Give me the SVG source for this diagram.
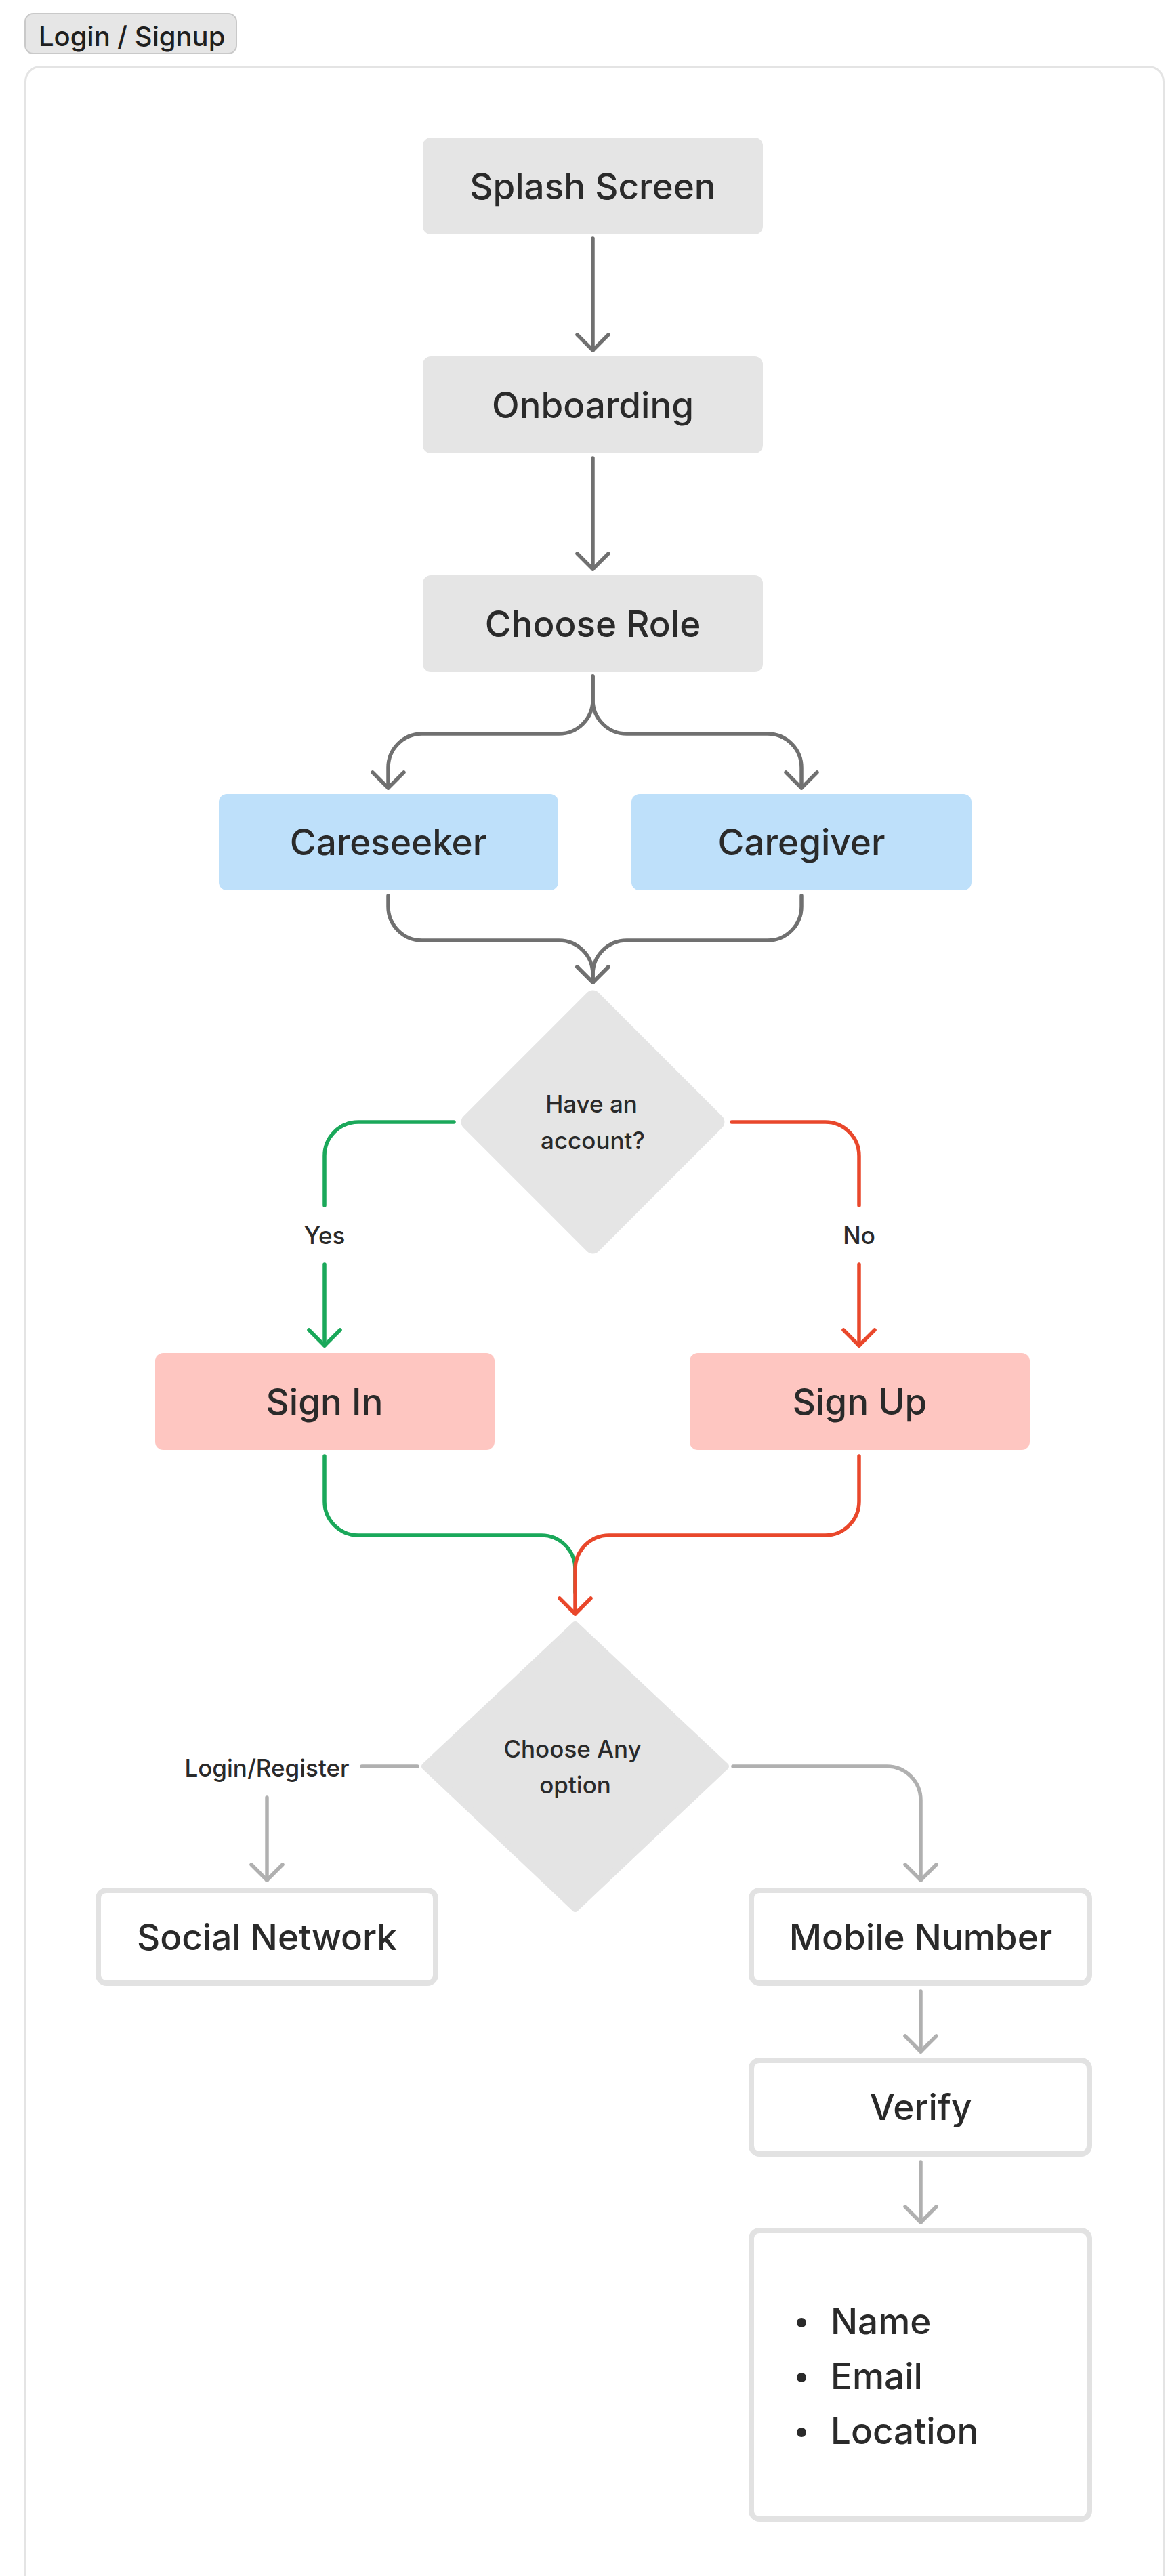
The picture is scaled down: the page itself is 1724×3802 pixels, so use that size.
<svg xmlns="http://www.w3.org/2000/svg" width="1724" height="3802" viewBox="0 0 1724 3802">
<style>
.lbl{font-family:Inter,"Noto Sans","Liberation Sans",sans-serif;fill:#2a2a2a;text-anchor:middle;font-weight:500}
.big{font-size:53px}
.sm{font-size:35px}
.grey{fill:#e5e5e5}
.blue{fill:#bee0fa}
.pink{fill:#fec6c1}
.white{fill:#ffffff;stroke:#e2e2e2;stroke-width:8}
.c{fill:none;stroke-width:5.5;stroke-linecap:round;stroke-linejoin:round}
.dark{stroke:#707070}
.light{stroke:#b0b0b0}
.green{stroke:#1aa85a}
.red{stroke:#e9472b}
</style>
<defs>
<marker id="aDark" markerUnits="userSpaceOnUse" markerWidth="60" markerHeight="60" viewBox="-30 -30 60 60" refX="0" refY="0" orient="auto"><path d="M-23,-23 L0,0 L-23,23" fill="none" stroke="#707070" stroke-width="5.5" stroke-linecap="round" stroke-linejoin="round"/></marker>
<marker id="aLight" markerUnits="userSpaceOnUse" markerWidth="60" markerHeight="60" viewBox="-30 -30 60 60" refX="0" refY="0" orient="auto"><path d="M-23,-23 L0,0 L-23,23" fill="none" stroke="#b0b0b0" stroke-width="5.5" stroke-linecap="round" stroke-linejoin="round"/></marker>
<marker id="aGreen" markerUnits="userSpaceOnUse" markerWidth="60" markerHeight="60" viewBox="-30 -30 60 60" refX="0" refY="0" orient="auto"><path d="M-23,-23 L0,0 L-23,23" fill="none" stroke="#1aa85a" stroke-width="5.5" stroke-linecap="round" stroke-linejoin="round"/></marker>
<marker id="aRed" markerUnits="userSpaceOnUse" markerWidth="60" markerHeight="60" viewBox="-30 -30 60 60" refX="0" refY="0" orient="auto"><path d="M-23,-23 L0,0 L-23,23" fill="none" stroke="#e9472b" stroke-width="5.5" stroke-linecap="round" stroke-linejoin="round"/></marker>
</defs>
<rect width="1724" height="3802" fill="#ffffff"/>
<g id="tag">
<rect x="37" y="20" width="312" height="59" rx="12" fill="#e6e6e6" stroke="#c9c9c9" stroke-width="2"/>
<text x="57" y="68" style="font-family:Inter,'Noto Sans','Liberation Sans',sans-serif;font-size:40px;font-weight:500;fill:#1f1f1f">Login / Signup</text>
</g>
<g id="container">
<rect x="37.5" y="98.5" width="1680" height="3800" rx="22" fill="#ffffff" stroke="#e4e4e4" stroke-width="3"/>
</g>
<g id="connectors">
<path class="c dark" d="M875 352 V517" marker-end="url(#aDark)"/>
<path class="c dark" d="M875 676 V840" marker-end="url(#aDark)"/>
<path class="c dark" d="M875 998 V1033 A50 50 0 0 1 825 1083 H623 A50 50 0 0 0 573 1133 V1163" marker-end="url(#aDark)"/>
<path class="c dark" d="M875 998 V1033 A50 50 0 0 0 925 1083 H1133 A50 50 0 0 1 1183 1133 V1163" marker-end="url(#aDark)"/>
<path class="c dark" d="M573 1322 V1338 A50 50 0 0 0 623 1388 H825 A50 50 0 0 1 875 1438 V1450" marker-end="url(#aDark)"/>
<path class="c dark" d="M1183 1322 V1338 A50 50 0 0 1 1133 1388 H925 A50 50 0 0 0 875 1438 V1450" marker-end="url(#aDark)"/>
<path class="c green" d="M670 1656 H529 A50 50 0 0 0 479 1706 V1779"/>
<path class="c green" d="M479 1866 V1986" marker-end="url(#aGreen)"/>
<path class="c red" d="M1080 1656 H1218 A50 50 0 0 1 1268 1706 V1779"/>
<path class="c red" d="M1268 1866 V1986" marker-end="url(#aRed)"/>
<path class="c green" d="M479 2149 V2216 A50 50 0 0 0 529 2266 H799 A50 50 0 0 1 849 2316 V2350"/>
<path class="c red" d="M1268 2149 V2216 A50 50 0 0 1 1218 2266 H899 A50 50 0 0 0 849 2316 V2382" marker-end="url(#aRed)"/>
<path class="c light" d="M616 2607 H534"/>
<path class="c light" d="M394 2653 V2775" marker-end="url(#aLight)"/>
<path class="c light" d="M1082 2607 H1309 A50 50 0 0 1 1359 2657 V2775" marker-end="url(#aLight)"/>
<path class="c light" d="M1359 2939 V3028" marker-end="url(#aLight)"/>
<path class="c light" d="M1359 3191 V3280" marker-end="url(#aLight)"/>
</g>
<g id="edge-labels">
<text class="lbl sm" x="479" y="1836">Yes</text>
<text class="lbl sm" x="1268" y="1836">No</text>
<text class="lbl sm" x="394" y="2622">Login/Register</text>
</g>
<g id="splash">
<rect class="grey" x="624" y="203" width="502" height="143" rx="12"/>
<text class="lbl big" x="875" y="294">Splash Screen</text>
</g>
<g id="onboarding">
<rect class="grey" x="624" y="526" width="502" height="143" rx="12"/>
<text class="lbl big" x="875" y="617">Onboarding</text>
</g>
<g id="choose-role">
<rect class="grey" x="624" y="849" width="502" height="143" rx="12"/>
<text class="lbl big" x="875" y="940">Choose Role</text>
</g>
<g id="careseeker">
<rect class="blue" x="323" y="1172" width="501" height="142" rx="12"/>
<text class="lbl big" x="573" y="1262">Careseeker</text>
</g>
<g id="caregiver">
<rect class="blue" x="932" y="1172" width="502" height="142" rx="12"/>
<text class="lbl big" x="1183" y="1262">Caregiver</text>
</g>
<g id="have-account">
<rect class="grey" x="-141" y="-141" width="282" height="282" rx="12" transform="translate(875 1656) rotate(45)"/>
<text class="lbl sm" x="873" y="1642">Have an</text>
<text class="lbl sm" x="875" y="1696">account?</text>
</g>
<g id="sign-in">
<rect class="pink" x="229" y="1997" width="501" height="143" rx="12"/>
<text class="lbl big" x="479" y="2088">Sign In</text>
</g>
<g id="sign-up">
<rect class="pink" x="1018" y="1997" width="502" height="143" rx="12"/>
<text class="lbl big" x="1269" y="2088">Sign Up</text>
</g>
<g id="choose-option">
<polygon points="849,2398 1071,2607 849,2817 627,2607" fill="#e4e4e4" stroke="#e4e4e4" stroke-width="10" stroke-linejoin="round"/>
<text class="lbl sm" x="845" y="2594">Choose Any</text>
<text class="lbl sm" x="849" y="2647">option</text>
</g>
<g id="social-network">
<rect class="white" x="145" y="2790" width="498" height="137" rx="12"/>
<text class="lbl big" x="394" y="2878">Social Network</text>
</g>
<g id="mobile-number">
<rect class="white" x="1109" y="2790" width="499" height="137" rx="12"/>
<text class="lbl big" x="1359" y="2878">Mobile Number</text>
</g>
<g id="verify">
<rect class="white" x="1109" y="3041" width="499" height="138" rx="12"/>
<text class="lbl big" x="1359" y="3129">Verify</text>
</g>
<g id="details">
<rect class="white" x="1109" y="3292" width="499" height="426" rx="12"/>
<circle cx="1183" cy="3428" r="7" fill="#2a2a2a"/>
<circle cx="1183" cy="3509" r="7" fill="#2a2a2a"/>
<circle cx="1183" cy="3590" r="7" fill="#2a2a2a"/>
<text class="lbl big" x="1226" y="3445" style="text-anchor:start">Name</text>
<text class="lbl big" x="1226" y="3526" style="text-anchor:start">Email</text>
<text class="lbl big" x="1226" y="3607" style="text-anchor:start">Location</text>
</g>
</svg>
